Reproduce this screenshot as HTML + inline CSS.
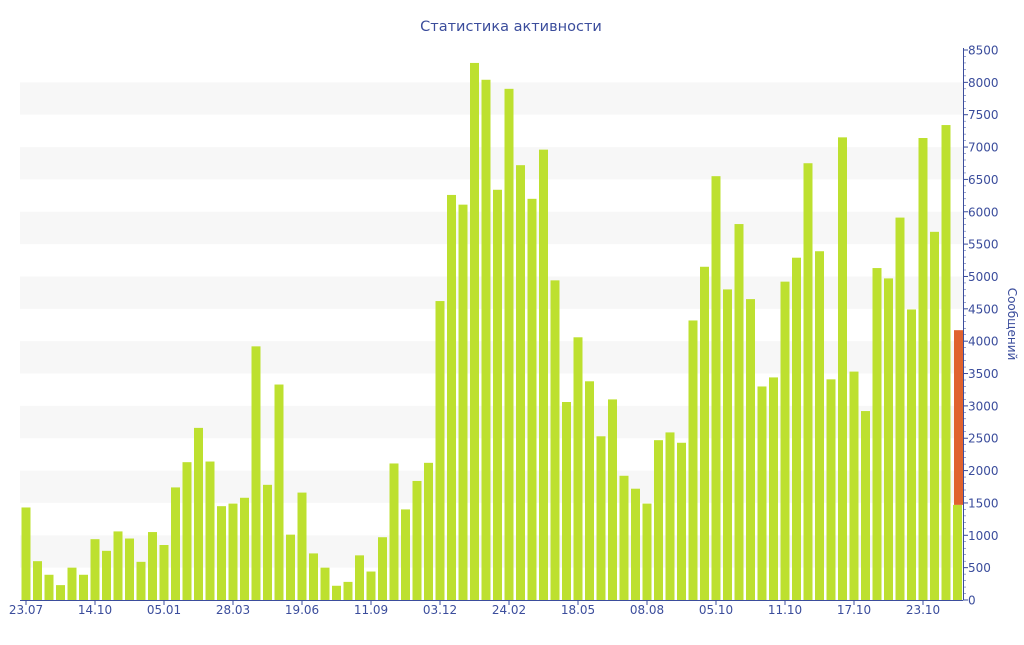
<!DOCTYPE html>
<html><head><meta charset="utf-8"><style>
body{margin:0;background:#fff}
svg text{font-family:"DejaVu Sans",sans-serif;fill:#3b4d9c}
</style></head><body>
<svg width="1024" height="640" xmlns="http://www.w3.org/2000/svg" id="s">
<text x="511" y="31" font-size="14.5" text-anchor="middle">Статистика активности</text>
<g id="bands"></g><g id="bars"></g><g id="axis"></g>
<text transform="translate(1008,324) rotate(90)" font-size="12" text-anchor="middle">Сообщений</text>
</svg>
<script>
var v=[1430,600,390,230,500,390,940,760,1060,950,590,1050,850,1740,2130,2660,2140,1450,1490,1580,3920,1780,3330,1010,1660,720,500,220,280,690,440,970,2110,1400,1840,2120,4620,6260,6110,8300,8040,6340,7900,6720,6200,6960,4940,3060,4060,3380,2530,3100,1920,1720,1490,2470,2590,2430,4320,5150,6550,4800,5810,4650,3300,3440,4920,5290,6750,5390,3410,7150,3530,2920,5130,4970,5910,4490,7140,5690,7340,1470];
var k=550/8500,y=function(a){return 600-a*k},h='',b='',a='';
for(var i=500;i<8500;i+=1000)h+='<rect x="20" y="'+y(i+500)+'" width="943" height="'+(500*k)+'" fill="#f7f7f7"/>';
v.forEach(function(d,i){var x=21.5+11.5*i;b+='<rect x="'+x+'" y="'+y(d)+'" width="9" height="'+(d*k)+'" fill="#bde02f"/>';});
b+='<rect x="954" y="'+y(4170)+'" width="9" height="'+((4170-1470)*k)+'" fill="#e0622e"/>';
a+='<line x1="20" y1="600.5" x2="963" y2="600.5" stroke="#3b4d9c"/><line x1="963.5" y1="48" x2="963.5" y2="600" stroke="#3b4d9c"/>';
for(var t=0;t<=8500;t+=500){a+='<line x1="963" x2="968" y1="'+y(t)+'" y2="'+y(t)+'" stroke="#3b4d9c"/><text x="968" y="'+(y(t)+4.5)+'" font-size="12">'+t+'</text>';}
for(var t=0;t<=8500;t+=100)a+='<line x1="963" x2="966" y1="'+y(t)+'" y2="'+y(t)+'" stroke="#3b4d9c" stroke-width="0.5"/>';
var L=['23.07','14.10','05.01','28.03','19.06','11.09','03.12','24.02','18.05','08.08','05.10','11.10','17.10','23.10'];
L.forEach(function(s,j){var x=26+11.5*6*j;a+='<line x1="'+x+'" x2="'+x+'" y1="600" y2="605" stroke="#3b4d9c"/><text x="'+x+'" y="614" font-size="12" text-anchor="middle">'+s+'</text>';});
document.getElementById('bands').innerHTML=h;document.getElementById('bars').innerHTML=b;document.getElementById('axis').innerHTML=a;
</script>
</body></html>
